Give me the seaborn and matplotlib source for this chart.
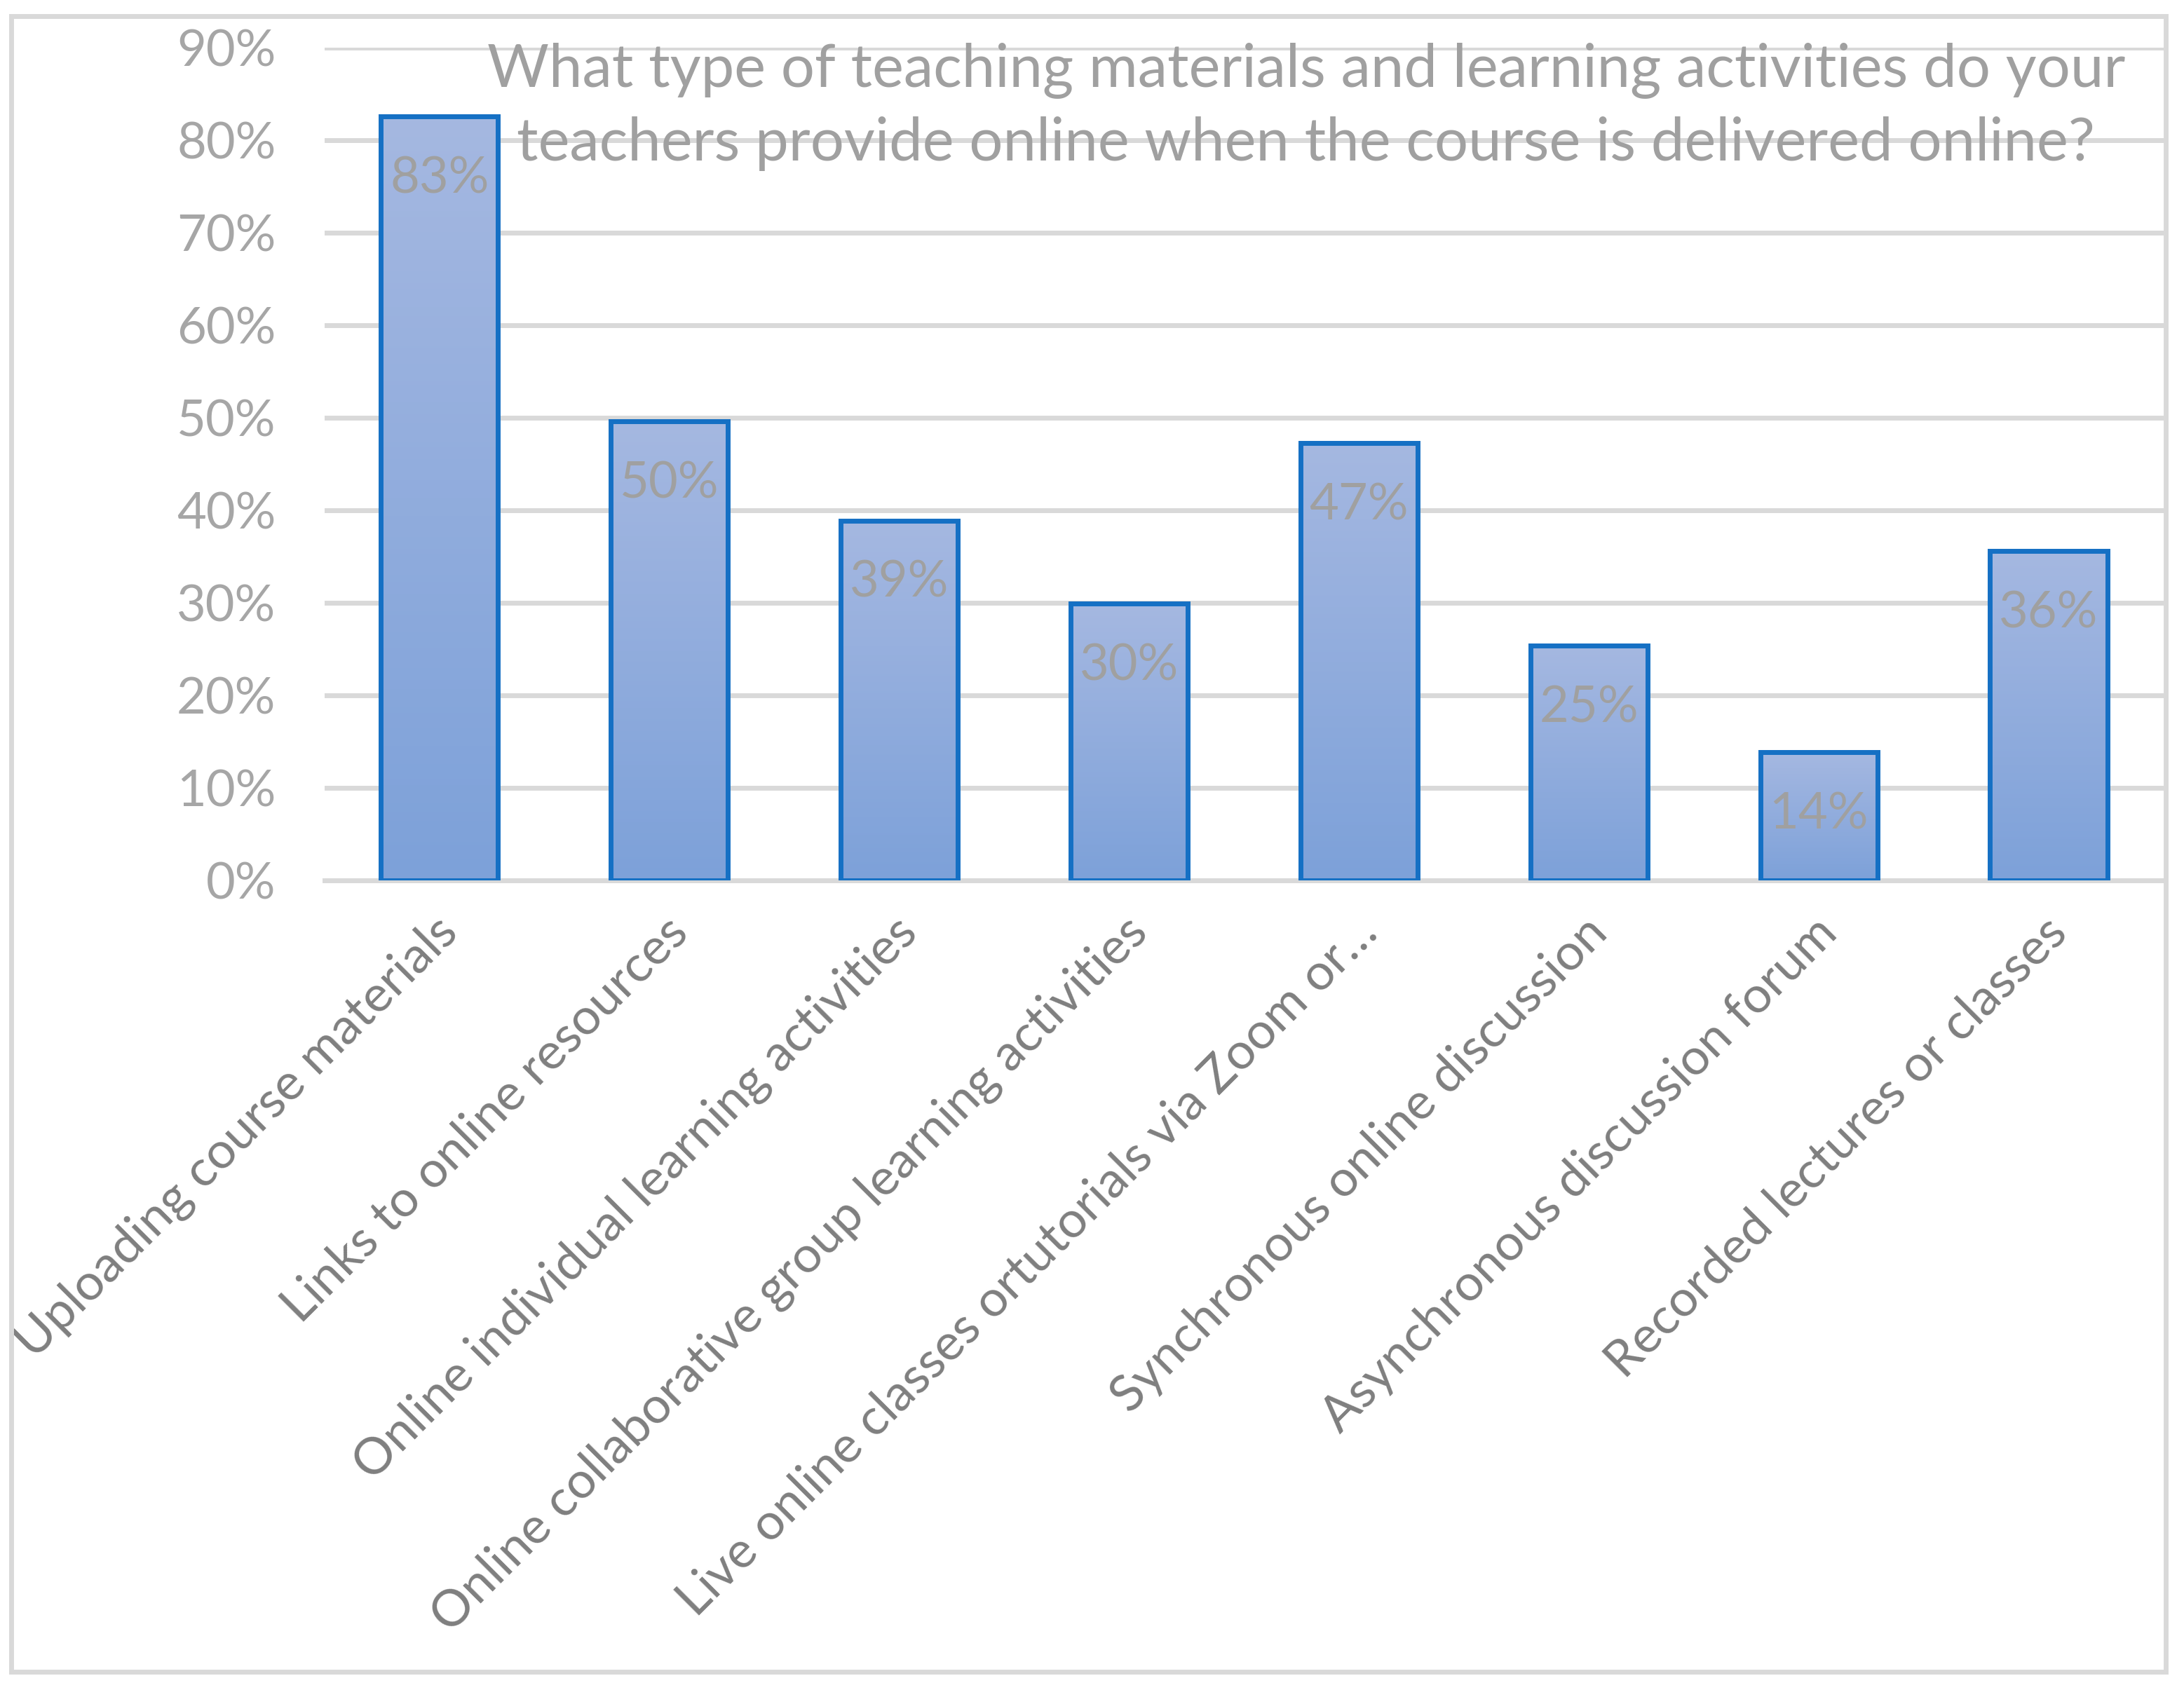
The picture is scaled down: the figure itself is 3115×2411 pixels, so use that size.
import numpy as np
import pandas as pd
import seaborn as sns
import matplotlib
matplotlib.use('Agg')
import matplotlib.pyplot as plt
from matplotlib.colors import LinearSegmentedColormap
from matplotlib.patches import Rectangle
from matplotlib.ticker import PercentFormatter
from matplotlib.transforms import ScaledTranslation

# data
categories = [
    'Uploading course materials',
    'Links to online resources',
    'Online individual learning activities',
    'Online collaborative group learning activities',
    'Live online classes ortutorials via Zoom or\u2026',
    'Synchronous online discussion',
    'Asynchronous discussion forum',
    'Recorded lectures or classes',
]
shares = [82.6, 49.6, 38.9, 29.9, 47.3, 25.4, 13.9, 35.6]
title = ('What type of teaching materials and learning activities do your\n'
         'teachers provide online when the course is delivered online?')

df = pd.DataFrame({'item': categories, 'share': shares})

sns.set_theme(style='white')
plt.rcParams['font.family'] = ['Lato', 'DejaVu Sans']

fig = plt.figure(figsize=(15.575, 12.055), dpi=200)
ax = fig.add_axes([0.1486, 0.479, 0.8421, 0.4928])

sns.barplot(data=df, x='item', y='share', color='#8eaadb', edgecolor='#1570c4',
            linewidth=2.5, width=0.51, ax=ax, zorder=3)

# gradient fill per bar
cmap = LinearSegmentedColormap.from_list('bar', ['#7da1d9', '#a5b8e1'])
grad = np.linspace(0, 1, 256).reshape(-1, 1)
for p in ax.patches:
    x0, y0 = p.get_x(), p.get_y()
    w, h = p.get_width(), p.get_height()
    im = ax.imshow(grad, cmap=cmap, origin='lower', aspect='auto',
                   extent=[x0, x0 + w, y0, y0 + h], zorder=2.9)
    im.set_clip_path(p)
    p.set_facecolor('none')

ax.set_xlim(-0.5, len(categories) - 0.5)
ax.set_ylim(0, 90)
ax.set_yticks(np.arange(0, 91, 10))
ax.yaxis.set_major_formatter(PercentFormatter(decimals=0))
ax.grid(axis='y', color='#d9d9d9', linewidth=2.5, zorder=0)
ax.set_axisbelow(True)
for s in ['top', 'right', 'left']:
    ax.spines[s].set_visible(False)
ax.spines['bottom'].set_color('#d9d9d9')
ax.spines['bottom'].set_linewidth(2.5)
ax.set_xlabel('')
ax.set_ylabel('')

ax.tick_params(axis='y', length=0, pad=25, labelsize=26, labelcolor='#a6a6a6')
ax.tick_params(axis='x', length=0, pad=12, labelsize=26, labelcolor='#7f7f7f')
shift = ScaledTranslation(0.075, -0.15, fig.dpi_scale_trans)
for lab in ax.get_xticklabels():
    lab.set_rotation(45)
    lab.set_ha('right')
    lab.set_va('center')
    lab.set_rotation_mode('anchor')
    lab.set_transform(lab.get_transform() + shift)

for i, v in enumerate(shares):
    ax.annotate('{:.0f}%'.format(v), (i, v), xytext=(0, -32),
                textcoords='offset points', ha='center', va='center',
                fontsize=26, color='#a0a0a0', zorder=5)

fig.text(0.598, 0.937, title, ha='center', va='center', multialignment='center',
         fontsize=30.6, color='#a0a0a0', linespacing=1.42)

fig.patches.append(Rectangle((16 / 3115, 1 - 2385 / 2411),
                             (3089 - 16) / 3115, (2385 - 23) / 2411,
                             transform=fig.transFigure, fill=False,
                             edgecolor='#d9d9d9', linewidth=2.5))

fig.savefig('out.png', dpi=200)
